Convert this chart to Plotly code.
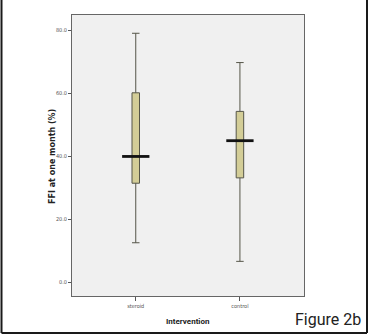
import plotly.graph_objects as go

categories = ["steroid", "control"]
lower_whisker = [12.5, 6.6]
q1 = [31.4, 33.1]
median = [39.9, 44.9]
q3 = [60.1, 54.2]
upper_whisker = [79.0, 69.7]
y_ticks = [0, 20, 40, 60, 80]
y_tick_labels = ["0.0", "20.0", "40.0", "60.0", "80.0"]

W, H = 369, 336
L, R, T, B = 72, 65, 15, 40
pw, ph = W - L - R, H - T - B

def px(x):
    return (x - L) / pw

def py(y):
    return (H - B - y) / ph

fig = go.Figure()
fig.add_trace(go.Box(
    x=categories, q1=q1, median=median, q3=q3,
    lowerfence=lower_whisker, upperfence=upper_whisker,
    width=0.072, whiskerwidth=1,
    fillcolor="#d3cd97", line=dict(color="#555548", width=1),
    boxpoints=False, showlegend=False, hoverinfo="skip",
))
fig.add_trace(go.Scatter(
    x=categories, y=median, mode="markers",
    marker=dict(symbol="line-ew", size=19.5, line=dict(width=2.8, color="#111111")),
    showlegend=False, hoverinfo="skip",
))

narrow = "DejaVu Sans Condensed, Roboto, sans-serif"
tick_font = dict(family=narrow, size=5.5, color="#555555")
fig.update_layout(
    width=W, height=H,
    margin=dict(l=L, r=R, t=T, b=B),
    paper_bgcolor="white", plot_bgcolor="#f0f0f0",
    xaxis=dict(range=[-0.612, 1.615], showgrid=False, zeroline=False,
               showline=True, linecolor="#666666", linewidth=1, mirror=True,
               ticks="outside", ticklen=4, tickcolor="#555555", tickfont=tick_font),
    yaxis=dict(range=[-4.4, 84.8], showgrid=False, zeroline=False,
               showline=True, linecolor="#666666", linewidth=1, mirror=True,
               tickvals=y_ticks, ticktext=y_tick_labels,
               ticks="outside", ticklen=3, tickcolor="#555555", tickfont=tick_font),
    font=dict(family=narrow),
)

ann = dict(xref="paper", yref="paper", xanchor="center", yanchor="middle", showarrow=False)
fig.add_annotation(text="<b>FFI at one month (%)</b>", x=px(53), y=py(157), textangle=-90,
                   font=dict(family="DejaVu Sans, sans-serif", size=8, color="#222222"), **ann)
fig.add_annotation(text="<b>Intervention</b>", x=px(188), y=py(321),
                   font=dict(family="Roboto, sans-serif", size=8, color="#222222"), **ann)
fig.add_annotation(text="Figure 2b", x=px(327.5), y=py(319),
                   font=dict(family="Roboto, sans-serif", size=16, color="#222222"), **ann)

border = dict(color="#1a1a1a", width=2)
x0, x1, yb, yt = px(1.5), px(367), py(333), py(-5)
fig.add_shape(type="line", xref="paper", yref="paper", x0=x0, x1=x0, y0=yb, y1=yt, line=border)
fig.add_shape(type="line", xref="paper", yref="paper", x0=x1, x1=x1, y0=yb, y1=yt, line=border)
fig.add_shape(type="line", xref="paper", yref="paper", x0=x0, x1=x1, y0=yb, y1=yb, line=border)

fig.write_html("out.html", config={"displayModeBar": False},
               post_script="document.body.style.margin='0';document.body.style.overflow='hidden';")
